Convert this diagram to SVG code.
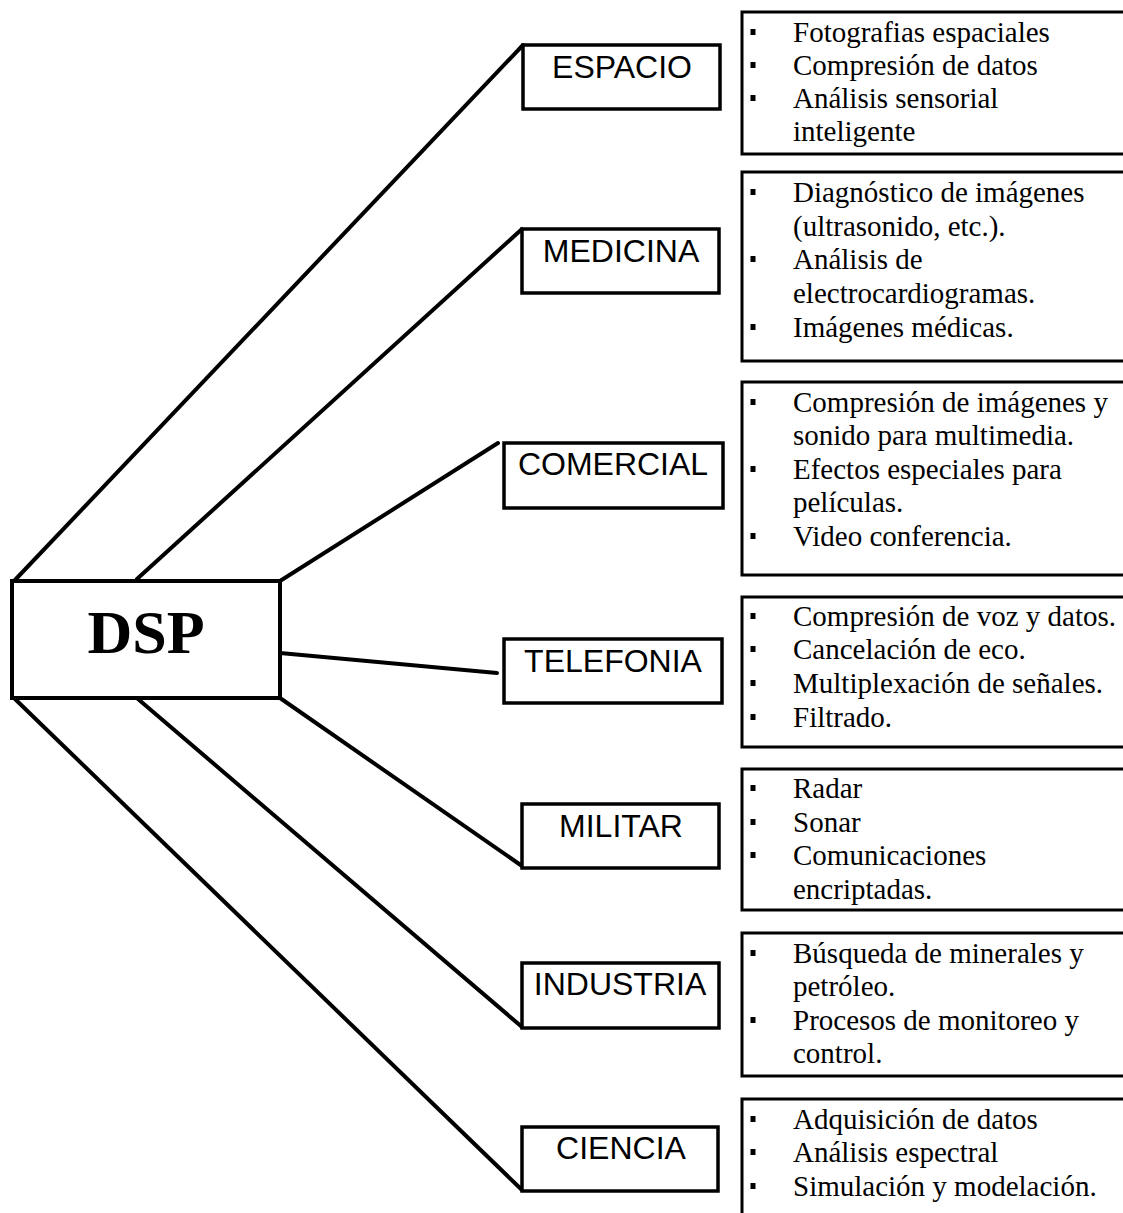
<svg xmlns="http://www.w3.org/2000/svg" width="1123" height="1213" viewBox="0 0 1123 1213">
<style>
.node{fill:#fff;stroke:#000;stroke-width:3.5}
.list{fill:#fff;stroke:#000;stroke-width:3}
.lbl{font-family:"Liberation Sans",Arial,sans-serif;font-size:32px;text-anchor:middle;fill:#000}
.item{font-family:"Liberation Serif","Times New Roman",serif;font-size:29px;fill:#000}
.dsp{font-family:"Liberation Serif","Times New Roman",serif;font-size:62px;font-weight:bold;text-anchor:middle;fill:#000}
.conn line{stroke:#000;stroke-width:4;stroke-linecap:round}
</style>
<defs>
<rect id="b" x="-2.5" y="-3" width="5" height="6" fill="#000"/>
</defs>
<rect width="1123" height="1213" fill="#fff"/>
<g id="connectors" class="conn">
<line x1="15" y1="580" x2="523" y2="45"/>
<line x1="137" y1="579" x2="522" y2="229"/>
<line x1="280" y1="581" x2="498" y2="443"/>
<line x1="280" y1="653" x2="497" y2="673"/>
<line x1="280" y1="698" x2="522" y2="866"/>
<line x1="138" y1="699" x2="522" y2="1027"/>
<line x1="15" y1="699" x2="522" y2="1190"/>
</g>
<g id="dsp">
<rect class="node" x="12" y="581" width="268" height="117" style="stroke-width:4"/>
<text class="dsp" x="146" y="653">DSP</text>
</g>
<g id="espacio">
<rect class="node" x="523" y="45" width="197" height="64"/>
<text class="lbl" x="622" y="78">ESPACIO</text>
</g>
<g id="medicina">
<rect class="node" x="522" y="229" width="197" height="64"/>
<text class="lbl" x="621" y="262">MEDICINA</text>
</g>
<g id="comercial">
<rect class="node" x="504" y="443" width="219" height="65"/>
<text class="lbl" x="613" y="475">COMERCIAL</text>
</g>
<g id="telefonia">
<rect class="node" x="504" y="639" width="218" height="64"/>
<text class="lbl" x="613" y="672">TELEFONIA</text>
</g>
<g id="militar">
<rect class="node" x="522" y="804" width="197" height="64"/>
<text class="lbl" x="621" y="837">MILITAR</text>
</g>
<g id="industria">
<rect class="node" x="522" y="963" width="197" height="65"/>
<text class="lbl" x="620" y="995">INDUSTRIA</text>
</g>
<g id="ciencia">
<rect class="node" x="522" y="1127" width="196" height="64"/>
<text class="lbl" x="621" y="1159">CIENCIA</text>
</g>
<g id="list-espacio">
<rect class="list" x="742" y="12" width="390" height="142"/>
<use href="#b" x="753" y="32"/><use href="#b" x="753" y="65"/><use href="#b" x="753" y="98"/>
<text class="item" x="793" y="42">Fotografias espaciales</text>
<text class="item" x="793" y="75">Compresión de datos</text>
<text class="item" x="793" y="108">Análisis sensorial</text>
<text class="item" x="793" y="141">inteligente</text>
</g>
<g id="list-medicina">
<rect class="list" x="742" y="172" width="390" height="189"/>
<use href="#b" x="753" y="192"/><use href="#b" x="753" y="259"/><use href="#b" x="753" y="327"/>
<text class="item" x="793" y="202">Diagnóstico de imágenes</text>
<text class="item" x="793" y="236">(ultrasonido, etc.).</text>
<text class="item" x="793" y="269">Análisis de</text>
<text class="item" x="793" y="303">electrocardiogramas.</text>
<text class="item" x="793" y="337">Imágenes médicas.</text>
</g>
<g id="list-comercial">
<rect class="list" x="742" y="382" width="390" height="193"/>
<use href="#b" x="753" y="402"/><use href="#b" x="753" y="469"/><use href="#b" x="753" y="536"/>
<text class="item" x="793" y="412">Compresión de imágenes y</text>
<text class="item" x="793" y="445">sonido para multimedia.</text>
<text class="item" x="793" y="479">Efectos especiales para</text>
<text class="item" x="793" y="512">películas.</text>
<text class="item" x="793" y="546">Video conferencia.</text>
</g>
<g id="list-telefonia">
<rect class="list" x="742" y="597" width="390" height="150"/>
<use href="#b" x="753" y="616"/><use href="#b" x="753" y="649"/><use href="#b" x="753" y="683"/><use href="#b" x="753" y="717"/>
<text class="item" x="793" y="626">Compresión de voz y datos.</text>
<text class="item" x="793" y="659">Cancelación de eco.</text>
<text class="item" x="793" y="693">Multiplexación de señales.</text>
<text class="item" x="793" y="727">Filtrado.</text>
</g>
<g id="list-militar">
<rect class="list" x="742" y="769" width="390" height="141"/>
<use href="#b" x="753" y="788"/><use href="#b" x="753" y="822"/><use href="#b" x="753" y="855"/>
<text class="item" x="793" y="798">Radar</text>
<text class="item" x="793" y="832">Sonar</text>
<text class="item" x="793" y="865">Comunicaciones</text>
<text class="item" x="793" y="899">encriptadas.</text>
</g>
<g id="list-industria">
<rect class="list" x="742" y="933" width="390" height="143"/>
<use href="#b" x="753" y="953"/><use href="#b" x="753" y="1020"/>
<text class="item" x="793" y="963">Búsqueda de minerales y</text>
<text class="item" x="793" y="996">petróleo.</text>
<text class="item" x="793" y="1030">Procesos de monitoreo y</text>
<text class="item" x="793" y="1063">control.</text>
</g>
<g id="list-ciencia">
<rect class="list" x="742" y="1099" width="390" height="140"/>
<use href="#b" x="753" y="1119"/><use href="#b" x="753" y="1152"/><use href="#b" x="753" y="1186"/>
<text class="item" x="793" y="1129">Adquisición de datos</text>
<text class="item" x="793" y="1162">Análisis espectral</text>
<text class="item" x="793" y="1196">Simulación y modelación.</text>
</g>
</svg>
